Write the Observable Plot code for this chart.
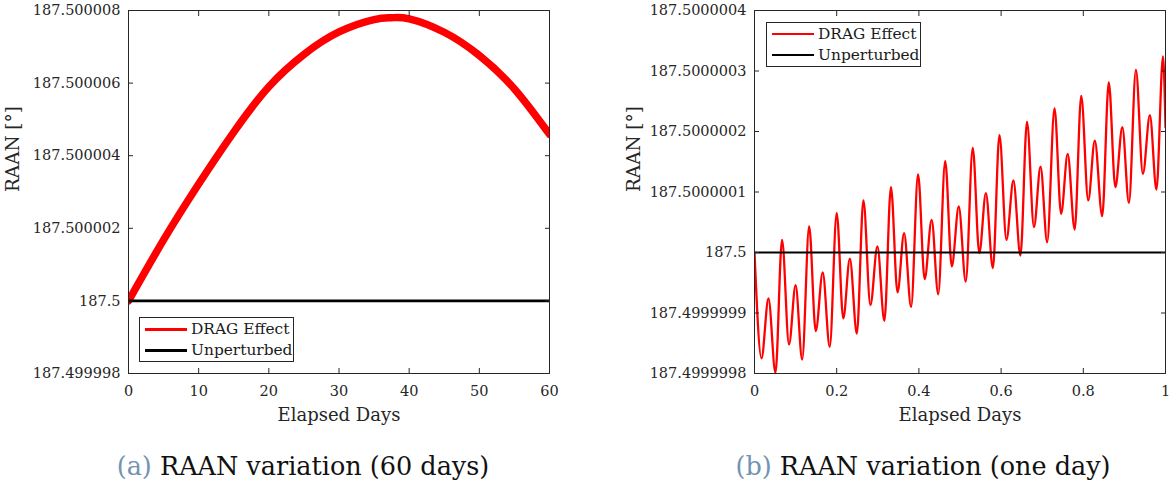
<!DOCTYPE html>
<html>
<head>
<meta charset="utf-8">
<script src="https://cdn.jsdelivr.net/npm/d3@7"></script>
<script src="https://cdn.jsdelivr.net/npm/@observablehq/plot@0.6"></script>
<style>
  html, body { margin: 0; padding: 0; background: #fff; }
  #wrap { position: relative; width: 1170px; height: 491px; overflow: hidden; font-family: "DejaVu Serif", "Liberation Serif", serif; color: #262626; }
  .panel { position: absolute; top: 0; }
  .legend { position: absolute; background: #fff; border: 1px solid #262626; box-sizing: border-box; }
  .legend .ln { position: absolute; height: 0; }
  .legend .tx { position: absolute; font-size: 15.4px; line-height: 20px; color: #1a1a1a; white-space: nowrap; }
  .caption { position: absolute; top: 450px; font-size: 25.5px; line-height: 32px; color: #111; white-space: nowrap; transform: translateX(-50%); }
  .caption .tag { color: #7393b3; }
</style>
</head>
<body>
<div id="wrap"></div>
<script>
// ---------- data ----------
// Panel (a): 60 days; RAAN offsets from 187.5 deg, in units of 1e-6 deg
const daysA = [0, 5, 10, 15, 20, 25, 30, 35, 37.5, 40, 45, 50, 55, 60];
const dragA = [0.0, 1.68, 3.22, 4.65, 5.90, 6.79, 7.41, 7.75, 7.80, 7.77, 7.40, 6.76, 5.84, 4.59];
const unpertA = [0];
const yTicksA = [-2, 0, 2, 4, 6, 8];
const yLabelsA = ["187.499998", "187.5", "187.500002", "187.500004", "187.500006", "187.500008"];
const xTicksA = [0, 10, 20, 30, 40, 50, 60];

// Panel (b): one day; RAAN offsets from 187.5 deg, in units of 1e-7 deg (local extrema)
const daysB = [0, 0.017, 0.034, 0.051, 0.067, 0.084, 0.100, 0.116, 0.133, 0.149, 0.166, 0.183, 0.200, 0.216, 0.232, 0.249,
  0.265, 0.282, 0.299, 0.316, 0.332, 0.348, 0.364, 0.381, 0.398, 0.414, 0.431, 0.447, 0.464, 0.480, 0.497, 0.514,
  0.531, 0.547, 0.563, 0.580, 0.596, 0.613, 0.630, 0.647, 0.663, 0.680, 0.696, 0.712, 0.730, 0.746, 0.762, 0.779,
  0.795, 0.812, 0.828, 0.846, 0.862, 0.878, 0.895, 0.911, 0.928, 0.945, 0.962, 0.978, 0.994, 1.0];
const dragB = [0, -1.75, -0.76, -1.99, 0.21, -1.52, -0.54, -1.77, 0.43, -1.30, -0.33, -1.56, 0.65, -1.09, -0.10, -1.34,
  0.86, -0.87, 0.10, -1.13, 1.08, -0.66, 0.32, -0.90, 1.29, -0.44, 0.54, -0.69, 1.51, -0.23, 0.76, -0.48,
  1.73, -0.01, 0.98, -0.26, 1.94, 0.21, 1.19, -0.05, 2.16, 0.42, 1.42, 0.17, 2.38, 0.64, 1.63, 0.38,
  2.59, 0.86, 1.85, 0.60, 2.81, 1.08, 2.07, 0.82, 3.02, 1.30, 2.27, 1.04, 3.24, 2.07];
const unpertB = [0];
const yTicksB = [-2, -1, 0, 1, 2, 3, 4];
const yLabelsB = ["187.4999998", "187.4999999", "187.5", "187.5000001", "187.5000002", "187.5000003", "187.5000004"];
const xTicksB = [0, 0.2, 0.4, 0.6, 0.8, 1];
const xLabelsB = ["0", "0.2", "0.4", "0.6", "0.8", "1"];

const seriesNames = ["DRAG Effect", "Unperturbed"];
const xLabel = "Elapsed Days";
const yLabel = "RAAN [°]";
const captions = [["(a)", " RAAN variation (60 days)"], ["(b)", " RAAN variation (one day)"]];

// ---------- drawing ----------
const FONT = "'DejaVu Serif', 'Liberation Serif', serif";
const AX = "#262626";

function panel({days, drag, unpert, xDomain, yDomain, xTicks, xFmt, yTicks, yFmt, width, marginLeft, marginRight, dragWidth, blackWidth, yLabelDx, curve}) {
  const yMap = new Map(yTicks.map((v, i) => [v, yFmt[i]]));
  const data = days.map((d, i) => ({d, v: drag[i]}));
  return Plot.plot({
    width, height: 430,
    marginLeft, marginRight, marginTop: 10, marginBottom: 57,
    style: {fontFamily: FONT, fontSize: "14.5px", color: AX, background: "transparent", overflow: "visible"},
    x: {domain: xDomain},
    y: {domain: yDomain},
    marks: [
      Plot.line(data, {x: "d", y: "v", stroke: "#ff0000", strokeWidth: dragWidth, curve, clip: true}),
      Plot.ruleY(unpert, {stroke: "#000", strokeWidth: blackWidth}),
      Plot.frame({stroke: AX, strokeWidth: 1}),
      Plot.axisX({ticks: xTicks, tickFormat: xFmt, tickSize: -5, tickPadding: 17, label: null, fontSize: 14.5}),
      Plot.axisX({anchor: "top", ticks: xTicks, tickSize: -5, fill: "none", label: null}),
      Plot.axisY({ticks: yTicks, tickFormat: d => yMap.get(d), tickSize: -5, tickPadding: 13, label: null, fontSize: 14.5}),
      Plot.axisY({anchor: "right", ticks: yTicks, tickSize: -5, fill: "none", label: null}),
      Plot.text([xLabel], {text: d => d, frameAnchor: "bottom", lineAnchor: "middle", dy: 42, fontSize: 18, fill: AX}),
      Plot.text([yLabel], {text: d => d, frameAnchor: "left", lineAnchor: "middle", rotate: -90, dx: yLabelDx, fontSize: 18.4, fill: AX})
    ]
  });
}

const wrap = document.getElementById("wrap");

const pa = panel({
  days: daysA, drag: dragA, unpert: unpertA, xDomain: [0, 60], yDomain: [-2, 8],
  xTicks: xTicksA, xFmt: d => String(d), yTicks: yTicksA, yFmt: yLabelsA,
  width: 585, marginLeft: 128, marginRight: 36, dragWidth: 7.5, blackWidth: 2.6, yLabelDx: -115, curve: "natural"
});
pa.classList.add("panel"); pa.style.left = "0px";
wrap.appendChild(pa);

const xbMap = new Map(xTicksB.map((v, i) => [v, xLabelsB[i]]));
const pb = panel({
  days: daysB, drag: dragB, unpert: unpertB, xDomain: [0, 1], yDomain: [-2, 4],
  xTicks: xTicksB, xFmt: d => xbMap.get(d), yTicks: yTicksB, yFmt: yLabelsB,
  width: 585, marginLeft: 169, marginRight: 5, dragWidth: 2.3, blackWidth: 2, yLabelDx: -120, curve: "monotone-x"
});
pb.classList.add("panel"); pb.style.left = "585px";
wrap.appendChild(pb);

// legends
function legend(left, top, lw) {
  const box = document.createElement("div");
  box.className = "legend";
  Object.assign(box.style, {left: left + "px", top: top + "px", width: "155px", height: "45px"});
  const colors = ["#ff0000", "#000000"];
  seriesNames.forEach((name, i) => {
    const ln = document.createElement("div");
    ln.className = "ln";
    Object.assign(ln.style, {left: "5px", width: "42px", top: (11 - lw / 2 + i * 21) + "px", borderTop: lw + "px solid " + colors[i]});
    box.appendChild(ln);
    const tx = document.createElement("div");
    tx.className = "tx";
    tx.textContent = name;
    Object.assign(tx.style, {left: "51px", top: (0.5 + i * 21) + "px"});
    box.appendChild(tx);
  });
  wrap.appendChild(box);
}
legend(139, 317, 3);
legend(766, 22, 2.2);

// captions
[[303, captions[0]], [923, captions[1]]].forEach(([cx, [tag, rest]]) => {
  const c = document.createElement("div");
  c.className = "caption";
  c.style.left = cx + "px";
  const t = document.createElement("span");
  t.className = "tag"; t.textContent = tag;
  c.appendChild(t);
  c.appendChild(document.createTextNode(rest));
  wrap.appendChild(c);
});
</script>
</body>
</html>
